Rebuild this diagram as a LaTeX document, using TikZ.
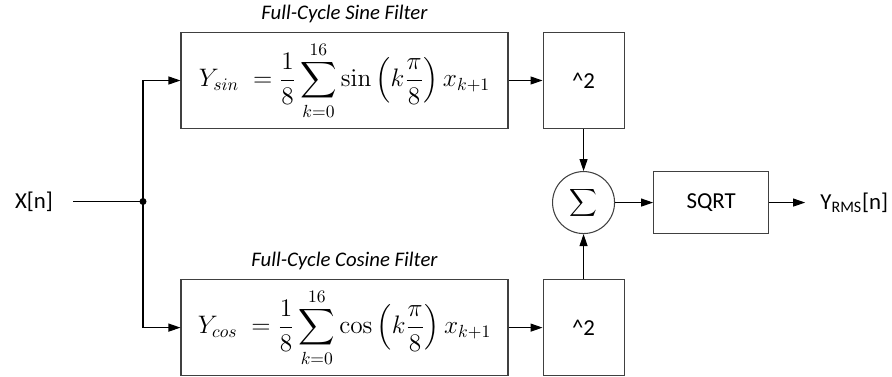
\documentclass[tikz,border=0pt]{standalone}
\usepackage{amsmath}
\usepackage[no-math]{fontspec}
\setmainfont{Carlito}
\usetikzlibrary{arrows.meta,positioning}
\tikzset{
  filterbox/.style={draw=black!75,line width=0.6pt,minimum width=6.54cm,minimum height=1.92cm,inner sep=0pt,font=\fontsize{14}{17}\selectfont},
  sqbox/.style={filterbox,minimum width=1.62cm,font=\fontsize{13}{15}\selectfont},
  opbox/.style={filterbox,minimum width=2.3cm,minimum height=1.24cm,font=\fontsize{13}{15}\selectfont},
  sumnode/.style={circle,draw=black!75,line width=0.6pt,minimum size=1.24cm,inner sep=0pt,font=\fontsize{11}{13}\selectfont},
  ttl/.style={inner sep=0pt,font=\fontsize{11.8}{13}\selectfont\itshape},
  arr/.style={-{Triangle[length=0.24cm,width=0.16cm]},draw=black,line width=0.6pt},
  wire/.style={draw=black,line width=0.6pt}
}
\begin{document}
\begin{tikzpicture}[font=\fontsize{13}{15}\selectfont]
  \useasboundingbox (0,-0.03) rectangle (17.84,7.49);
  % filters
  \node[filterbox] (sinbox) at (6.89,5.88)
    {$Y_{sin}\;=\dfrac{1}{8}\displaystyle\sum_{k=0}^{16}\sin\left(k\dfrac{\pi}{8}\right)x_{k+1}$};
  \node[ttl,above=0.17cm of sinbox] (sintitle) {Full-Cycle Sine Filter};
  \node[sqbox,right=0.68cm of sinbox] (sqsin) {\textasciicircum 2};
  \node[sumnode,below=0.84cm of sqsin] (sum) {$\displaystyle\sum$};
  \node[sqbox,below=0.9cm of sum] (sqcos) {\textasciicircum 2};
  \node[filterbox,left=0.68cm of sqcos] (cosbox)
    {$Y_{cos}\;=\dfrac{1}{8}\displaystyle\sum_{k=0}^{16}\cos\left(k\dfrac{\pi}{8}\right)x_{k+1}$};
  \node[ttl,above=0.17cm of cosbox] (costitle) {Full-Cycle Cosine Filter};
  % output
  \node[opbox,right=0.76cm of sum] (sqrt) {SQRT};
  \node[inner xsep=0.3cm,inner ysep=0pt,right=0.72cm of sqrt] (yrms) {Y\textsubscript{RMS}[n]};
  % input
  \node[inner xsep=0.4cm,inner ysep=0pt] (xin) at (0.68,3.46) {X[n]};
  \coordinate (split) at (2.86,3.46);
  \draw[wire] (xin.east) -- (split);
  \fill (split) circle (0.07cm);
  \draw[arr] (split) |- (sinbox.west);
  \draw[arr] (split) |- (cosbox.west);
  \draw[arr] (sinbox) -- (sqsin);
  \draw[arr] (cosbox) -- (sqcos);
  \draw[arr] (sqsin) -- (sum);
  \draw[arr] (sqcos) -- (sum);
  \draw[arr] (sum) -- (sqrt);
  \draw[arr] (sqrt) -- (yrms);
\end{tikzpicture}
\end{document}
